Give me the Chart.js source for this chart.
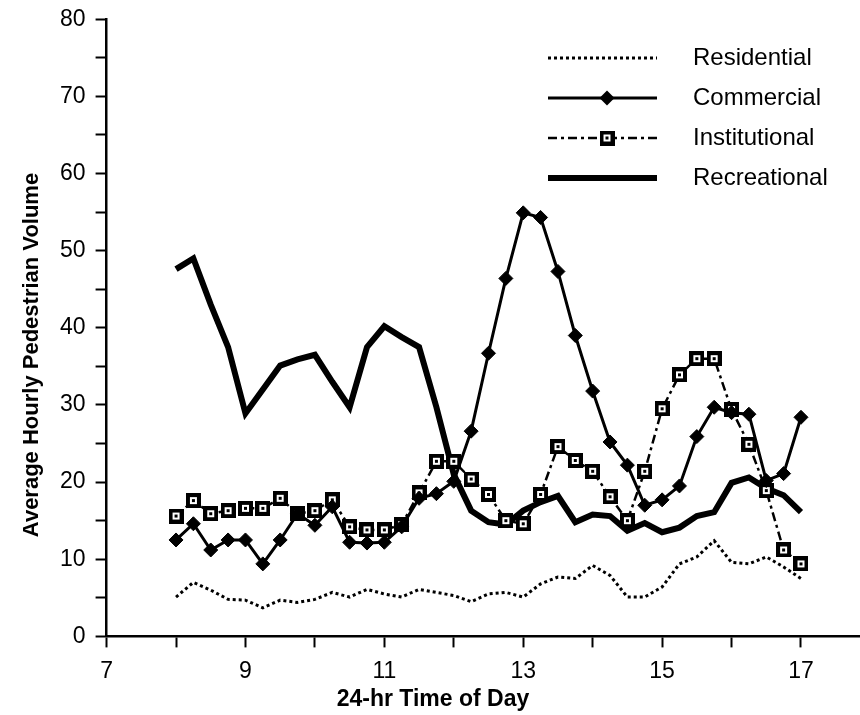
<!DOCTYPE html>
<html>
<head>
<meta charset="utf-8">
<title>Average Hourly Pedestrian Volume</title>
<script src="https://cdn.jsdelivr.net/npm/chart.js@4/dist/chart.umd.min.js"></script>
<style>
    html, body { margin: 0; padding: 0; background: #fff; overflow: hidden; }
    #wrap { width: 860px; height: 715px; overflow: hidden; }
</style>
</head>
<body>
<div id="wrap"><canvas id="chart-ped" width="870" height="715"></canvas></div>
<script>
// Zeitpunkte (24h), alle 15 Minuten
const times = [8, 8.25, 8.5, 8.75, 9, 9.25, 9.5, 9.75, 10, 10.25, 10.5, 10.75,
    11, 11.25, 11.5, 11.75, 12, 12.25, 12.5, 12.75, 13, 13.25, 13.5, 13.75,
    14, 14.25, 14.5, 14.75, 15, 15.25, 15.5, 15.75, 16, 16.25, 16.5, 16.75, 17];

const residential = [5.1, 7.0, 6.0, 4.8, 4.7, 3.7, 4.7, 4.4, 4.8, 5.7, 5.1, 6.1,
    5.5, 5.1, 6.1, 5.7, 5.3, 4.5, 5.5, 5.7, 5.1, 6.8, 7.7, 7.5,
    9.2, 7.9, 5.1, 5.1, 6.4, 9.4, 10.3, 12.4, 9.6, 9.4, 10.3, 9.0, 7.5];

const commercial = [12.5, 14.6, 11.2, 12.5, 12.5, 9.4, 12.5, 15.9, 14.4, 16.8, 12.2, 12.1,
    12.2, 14.2, 17.9, 18.5, 20.1, 26.6, 36.7, 46.4, 54.9, 54.3, 47.3, 39.0,
    31.8, 25.2, 22.2, 17.0, 17.7, 19.5, 25.9, 29.7, 29.0, 28.8, 20.2, 21.1, 28.4];

const institutional = [15.6, 17.6, 15.9, 16.3, 16.6, 16.6, 17.9, 15.9, 16.3, 17.7, 14.2, 13.8,
    13.8, 14.5, 18.6, 22.7, 22.7, 20.4, 18.4, 15.0, 14.6, 18.4, 24.6, 22.8,
    21.4, 18.1, 15.0, 21.4, 29.5, 33.9, 36.0, 36.0, 29.4, 24.9, 18.9, 11.2, 9.4];

const recreational = [47.6, 49.0, 43.0, 37.5, 28.9, 32.0, 35.1, 35.9, 36.5, 33.0, 29.7, 37.5,
    40.2, 38.8, 37.5, 29.7, 21.0, 16.3, 14.8, 14.5, 16.3, 17.4, 18.2, 14.8,
    15.8, 15.6, 13.7, 14.7, 13.5, 14.1, 15.6, 16.1, 19.9, 20.6, 19.2, 18.3, 16.1];

const seriesNames = ['Residential', 'Commercial', 'Institutional', 'Recreational'];
const xTitle = '24-hr Time of Day';
const yTitle = 'Average Hourly Pedestrian Volume';

const FONT = '"Liberation Sans", Arial, Helvetica, sans-serif';
Chart.defaults.font.family = FONT;
Chart.defaults.color = '#000';

// Quadrat-Marker: schwarzer Rahmen, weisses Feld, Punkt in der Mitte
function makeSquareMarker() {
    const c = document.createElement('canvas');
    c.width = 15;
    c.height = 15;
    const g = c.getContext('2d');
    g.fillStyle = '#000';
    g.fillRect(0, 0, 15, 15);
    g.fillStyle = '#fff';
    g.fillRect(4, 4, 7, 7);
    g.fillStyle = '#000';
    g.fillRect(6, 6, 3, 3);
    return c;
}
const squareMarker = makeSquareMarker();

function toPoints(values) {
    return values.map((v, i) => ({ x: times[i], y: v }));
}

/**
 * Legende im Diagramm (oben rechts)
 */
const insideLegend = {
    id: 'insideLegend',
    afterDraw(chart) {
        const ctx = chart.ctx;
        const x0 = 548, x1 = 657, xMark = 607, xText = 693;
        chart.data.datasets.forEach((ds, i) => {
            const y = 58 + i * 40;
            ctx.save();
            ctx.strokeStyle = '#000';
            ctx.lineWidth = ds.borderWidth;
            ctx.setLineDash(ds.borderDash || []);
            ctx.beginPath();
            ctx.moveTo(x0, y);
            ctx.lineTo(x1, y);
            ctx.stroke();
            ctx.setLineDash([]);
            if (ds.pointStyle === 'rectRot' && ds.pointRadius > 0) {
                const r = ds.pointRadius + 0.5;
                ctx.fillStyle = '#000';
                ctx.beginPath();
                ctx.moveTo(xMark, y - r);
                ctx.lineTo(xMark + r, y);
                ctx.lineTo(xMark, y + r);
                ctx.lineTo(xMark - r, y);
                ctx.closePath();
                ctx.fill();
            } else if (ds.pointStyle === squareMarker) {
                ctx.drawImage(squareMarker, xMark - 7.5, y - 7.5);
            }
            ctx.fillStyle = '#000';
            ctx.font = '24px ' + FONT;
            ctx.textAlign = 'left';
            ctx.textBaseline = 'middle';
            ctx.fillText(ds.label, xText, y);
            ctx.restore();
        });
    }
};

/**
 * Achsentitel - im Original nicht mittig zur Zeichenflaeche
 */
const axisTitles = {
    id: 'axisTitles',
    afterDraw(chart) {
        const ctx = chart.ctx;
        ctx.save();
        ctx.fillStyle = '#000';
        ctx.textAlign = 'center';
        ctx.textBaseline = 'middle';
        ctx.font = 'bold 23px ' + FONT;
        ctx.fillText(xTitle, 433, 700);
        ctx.translate(32, 355);
        ctx.rotate(-Math.PI / 2);
        ctx.font = 'bold 22px ' + FONT;
        ctx.fillText(yTitle, 0, 0);
        ctx.restore();
    }
};

const ctx = document.getElementById('chart-ped');

new Chart(ctx, {
    type: 'line',
    data: {
        datasets: [{
            label: seriesNames[0],
            data: toPoints(residential),
            borderColor: '#000',
            borderWidth: 3,
            borderDash: [3, 3],
            pointRadius: 0,
            tension: 0
        }, {
            label: seriesNames[1],
            data: toPoints(commercial),
            borderColor: '#000',
            borderWidth: 3,
            pointStyle: 'rectRot',
            pointRadius: 7,
            pointBorderWidth: 1,
            pointBackgroundColor: '#000',
            pointBorderColor: '#000',
            tension: 0
        }, {
            label: seriesNames[2],
            data: toPoints(institutional),
            borderColor: '#000',
            borderWidth: 2.5,
            borderDash: [9, 4, 3, 4],
            pointStyle: squareMarker,
            pointRadius: 7.5,
            tension: 0
        }, {
            label: seriesNames[3],
            data: toPoints(recreational),
            borderColor: '#000',
            borderWidth: 6,
            pointRadius: 0,
            borderJoinStyle: 'miter',
            tension: 0
        }]
    },
    options: {
        responsive: false,
        animation: false,
        layout: {
            padding: { top: 15, left: 50, right: 0, bottom: 20 }
        },
        plugins: {
            legend: { display: false },
            tooltip: { enabled: false }
        },
        scales: {
            x: {
                type: 'linear',
                min: 7,
                max: 17.85,
                // nur ganze Stunden als Ticks
                afterBuildTicks: (scale) => {
                    scale.ticks = scale.ticks.filter(t => Number.isInteger(t.value));
                },
                border: { color: '#000', width: 2.5 },
                grid: {
                    drawOnChartArea: false,
                    drawTicks: true,
                    tickLength: 11,
                    tickColor: '#000',
                    tickWidth: 2
                },
                ticks: {
                    stepSize: 1,
                    includeBounds: false,
                    autoSkip: false,
                    maxRotation: 0,
                    padding: 10,
                    color: '#000',
                    font: { size: 23 },
                    callback: (v) => (v % 2 === 1 ? String(v) : '')
                }
            },
            y: {
                min: 0,
                max: 80,
                border: { color: '#000', width: 2.5 },
                grid: {
                    drawOnChartArea: false,
                    drawTicks: true,
                    tickLength: 11,
                    tickColor: '#000',
                    tickWidth: 2
                },
                ticks: {
                    stepSize: 5,
                    autoSkip: false,
                    padding: 10,
                    color: '#000',
                    font: { size: 23, lineHeight: 0.8 },
                    callback: (v) => (v % 10 === 0 ? String(v) : '')
                }
            }
        }
    },
    plugins: [insideLegend, axisTitles]
});
</script>
</body>
</html>
